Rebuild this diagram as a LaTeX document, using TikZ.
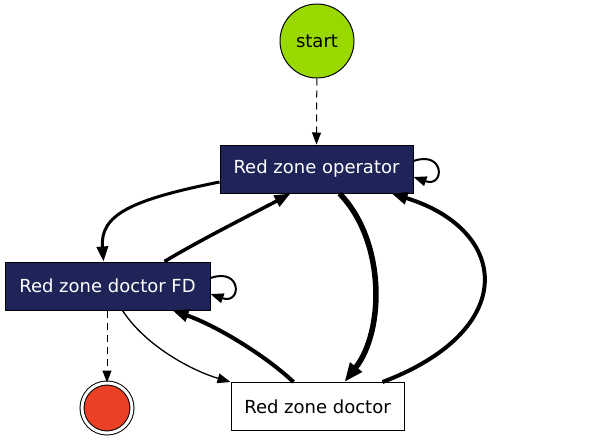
\documentclass[tikz,border=0pt]{standalone}
\usepackage{fontspec}
\setmainfont{DejaVu Sans}
\usetikzlibrary{arrows.meta}
\definecolor{startgreen}{HTML}{99D800}
\definecolor{zonenavy}{HTML}{1E2457}
\definecolor{endred}{HTML}{EA4126}
\tikzset{
  act/.style={draw=black, line width=1pt, rectangle, inner sep=0pt, minimum height=48pt, font=\fontsize{18}{21}\selectfont},
  busy/.style={act, fill=zonenavy, text=white},
  tip/.style={-{Triangle[length=#1pt, width=0.75*#1pt]}},
}
\begin{document}
\begin{tikzpicture}[x=1pt, y=-1pt]
    \useasboundingbox (0,0) rectangle (591,442);
    \node [draw, line width=1pt, circle, fill=startgreen, minimum size=74pt, inner sep=0pt,
           font=\fontsize{18}{21}\selectfont] (start) at (317,41) {start};
    \node [busy, minimum width=193pt] (op) at (316.5,169) {Red zone operator};
    \node [busy, minimum width=205pt] (fd) at (107.5,286) {Red zone doctor FD};
    \node [act, fill=white, minimum width=173pt] (doc) at (317.5,406.5) {Red zone doctor};
    \node [draw, line width=1pt, circle, double, double distance=3pt, fill=endred, minimum size=50pt,
           inner sep=0pt] (end) at (107,408) {};
    % dashed entry and exit
    \draw [tip=12, line width=1pt, dash pattern=on 7pt off 5pt] (start) -- (op.north);
    \draw [tip=12, line width=1pt, dash pattern=on 7pt off 5pt] (fd.south -| end) -- (end.north);
    % self loops
    \draw [tip=13, line width=2pt] ([yshift=8pt]op.east) .. controls (445,150) and (445,188) .. ([yshift=-8pt]op.east);
    \draw [tip=13, line width=2pt] ([yshift=8pt]fd.east) .. controls (242,267) and (242,305) .. ([yshift=-8pt]fd.east);
    % between the zones
    \draw [tip=15, line width=3pt] ([yshift=-13pt]op.west) .. controls (130,200) and (100,215) .. ([xshift=-4pt]fd.north);
    \draw [tip=16, line width=3.5pt] ([xshift=57pt]fd.north) .. controls (200,240) and (260,210) .. ([xshift=-26pt]op.south);
    \draw [tip=19, line width=5.5pt] ([xshift=23pt]op.south) .. controls (385,240) and (385,330) .. ([xshift=27pt]doc.north);
    \draw [tip=16, line width=4pt] ([xshift=65pt]doc.north) .. controls (520,330) and (510,230) .. ([xshift=75pt]op.south);
    \draw [tip=16, line width=4pt] ([xshift=-24pt]doc.north) .. controls (265,355) and (215,325) .. ([xshift=65pt]fd.south);
    \draw [tip=13, line width=1.3pt] ([xshift=15pt]fd.south) .. controls (145,345) and (190,370) .. (doc.north west);
\end{tikzpicture}
\end{document}
